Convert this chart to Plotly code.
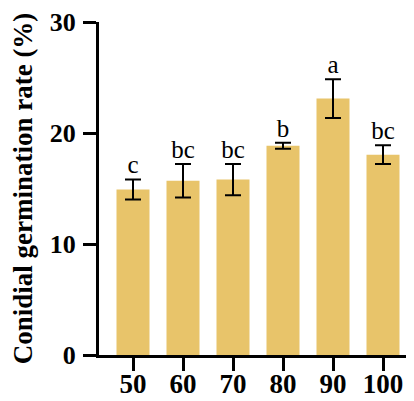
import plotly.graph_objects as go

categories = ["50", "60", "70", "80", "90", "100"]
means = [14.9, 15.7, 15.8, 18.85, 23.1, 18.05]
errors = [0.9, 1.5, 1.4, 0.27, 1.75, 0.85]
letters = ["c", "bc", "bc", "b", "a", "bc"]
y_ticks = [0, 10, 20, 30]

bar_color = "#E8C46A"
font_family = "Liberation Serif, Times New Roman, serif"

fig = go.Figure()
fig.add_trace(go.Bar(
    x=categories, y=means, width=0.66,
    marker=dict(color=bar_color, line=dict(width=0)),
    error_y=dict(type="data", array=errors, visible=True,
                 color="black", thickness=2, width=8),
    showlegend=False,
))
fig.add_trace(go.Scatter(
    x=categories, y=[m + e for m, e in zip(means, errors)],
    mode="text", text=letters, textposition="top center",
    textfont=dict(family=font_family, size=25, color="black"),
    showlegend=False, hoverinfo="skip", cliponaxis=False,
))

fig.update_layout(
    width=406, height=393,
    margin=dict(l=91, r=0, t=14, b=46, autoexpand=False),
    plot_bgcolor="white", paper_bgcolor="white",
    font=dict(family=font_family, color="black"),
)
fig.update_xaxes(
    type="category", range=[-0.68, 5.62], automargin=False,
    showline=True, linewidth=3, linecolor="black",
    ticks="outside", ticklen=13, tickwidth=3, tickcolor="black",
    ticklabelstandoff=-10,
    tickfont=dict(family=font_family, size=27, color="black", weight="bold"),
    showgrid=False, zeroline=False,
)
fig.update_yaxes(
    range=[0, 30], tickvals=y_ticks, automargin=False,
    showline=True, linewidth=3, linecolor="black",
    ticks="outside", ticklen=13, tickwidth=3, tickcolor="black",
    ticklabelstandoff=2,
    tickfont=dict(family=font_family, size=26, color="black", weight="bold"),
    showgrid=False, zeroline=False,
    title=dict(text="Conidial germination rate (%)",
               font=dict(family=font_family, size=27, color="black", weight="bold"),
               standoff=18),
)

fig.write_html("out.html")
